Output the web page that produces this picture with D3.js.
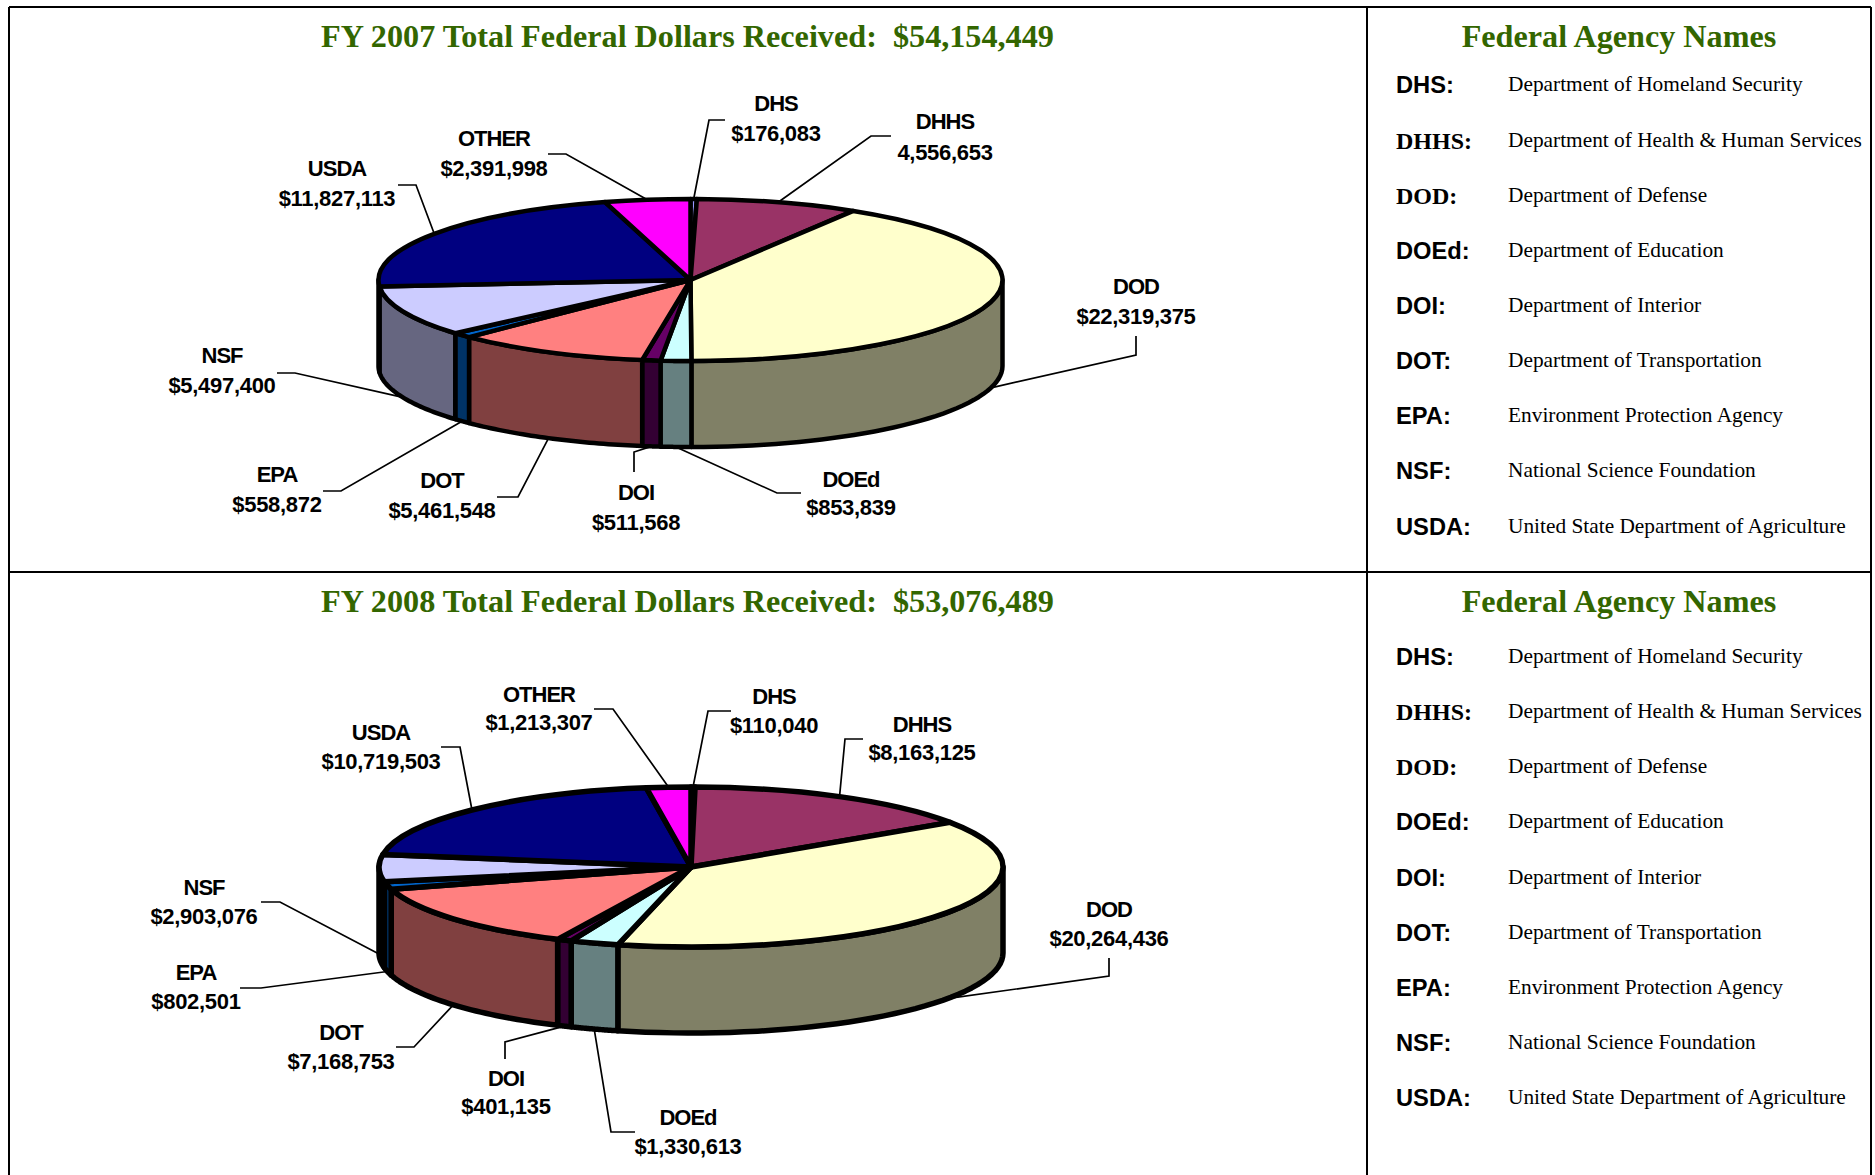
<!DOCTYPE html>
<html>
<head>
<meta charset="utf-8">
<script src="https://d3js.org/d3.v7.min.js"></script>
<style>
    body { margin: 0; background: #fff; }
    svg { display: block; }
    .title { font-family: "Liberation Serif", serif; font-weight: bold; font-size: 32.2px; fill: #336600; text-anchor: middle; white-space: pre; }
    .slice-label { font-family: "Liberation Sans", sans-serif; font-weight: bold; font-size: 22px; text-anchor: middle; fill: #000; }
    .slice-name { letter-spacing: -1px; }
    .slice-value { letter-spacing: -0.3px; }
    .desc { font-family: "Liberation Serif", serif; font-size: 21.35px; fill: #000; }
    .abbr { font-weight: bold; fill: #000; }
</style>
</head>
<body>
<div id="chart"></div>
<script>
// chart data, clockwise from the top of each pie
const agencies = ["DHS", "DHHS", "DOD", "DOEd", "DOI", "DOT", "EPA", "NSF", "USDA", "OTHER"];
const values2007 = [176083, 4556653, 22319375, 853839, 511568, 5461548, 558872, 5497400, 11827113, 2391998];
const values2008 = [110040, 8163125, 20264436, 1330613, 401135, 7168753, 802501, 2903076, 10719503, 1213307];
const valueLabels2007 = ["$176,083", "4,556,653", "$22,319,375", "$853,839", "$511,568", "$5,461,548", "$558,872", "$5,497,400", "$11,827,113", "$2,391,998"];
const valueLabels2008 = ["$110,040", "$8,163,125", "$20,264,436", "$1,330,613", "$401,135", "$7,168,753", "$802,501", "$2,903,076", "$10,719,503", "$1,213,307"];
const topColors = ["#9999FF", "#993366", "#FFFFCC", "#CCFFFF", "#660066", "#FF8080", "#0066CC", "#CCCCFF", "#000080", "#FF00FF"];

// legend table
const legendAbbr = ["DHS:", "DHHS:", "DOD:", "DOEd:", "DOI:", "DOT:", "EPA:", "NSF:", "USDA:"];
const legendNames = ["Department of Homeland Security", "Department of Health & Human Services", "Department of Defense",
    "Department of Education", "Department of Interior", "Department of Transportation",
    "Environment Protection Agency", "National Science Foundation", "United State Department of Agriculture"];
const legendSerif = ["DHHS:", "DOD:"];

// Label placement: label centre x, name y, value y, elbow x, elbow y, tail x, tail y
const layout2007 = [
    [776, 103, 133, 709, 120, 725, 120],
    [945, 121, 152, 871, 136, 891, 136],
    [1136, 286, 316, 1136, 355, 1136, 336],
    [851, 479, 507, 777, 493, 801, 493],
    [636, 492, 522, 634, 452, 634, 472],
    [442, 480, 510, 518, 497, 497, 497],
    [277, 474, 504, 341, 491, 323, 491],
    [222, 355, 385, 295, 373, 277, 373],
    [337, 168, 198, 416, 185, 398, 185],
    [494, 138, 168, 566, 154, 548, 154]
];
const layout2008 = [
    [774, 696, 725, 708, 711, 731, 711],
    [922, 724, 752, 845, 739, 863, 739],
    [1109, 909, 938, 1109, 976, 1109, 958],
    [688, 1117, 1146, 611, 1132, 635, 1132],
    [506, 1078, 1106, 505, 1042, 505, 1059],
    [341, 1032, 1061, 414, 1047, 396, 1047],
    [196, 972, 1001, 261, 988, 240, 988],
    [204, 887, 916, 280, 902, 261, 902],
    [381, 732, 761, 460, 747, 441, 747],
    [539, 694, 722, 613, 709, 594, 709]
];

const svgWidth = 1875;
const svgHeight = 1175;
const svg = d3.select("#chart").append("svg")
    .attr("width", svgWidth)
    .attr("height", svgHeight);

// Table lines
const tableLeft = 9, tableMid = 1367, tableRight = 1871, tableTop = 7, tableRow = 572;
[[tableLeft, tableTop, tableRight, tableTop],
 [tableLeft, tableRow, tableRight, tableRow],
 [tableLeft, tableTop, tableLeft, svgHeight],
 [tableMid, tableTop, tableMid, svgHeight],
 [tableRight, tableTop, tableRight, svgHeight]].forEach(l => {
    svg.append("line")
        .attr("x1", l[0]).attr("y1", l[1]).attr("x2", l[2]).attr("y2", l[3])
        .attr("stroke", "#000").attr("stroke-width", 2);
});

// Side walls are the top colour at half brightness
function wallColor(c) {
    const rgb = d3.rgb(c);
    return d3.rgb(rgb.r / 2, rgb.g / 2, rgb.b / 2);
}

// Draws one flattened 3D pie with its leader lines and labels
function drawPie(values, valueLabels, layout, opt) {
    const { cx, cy, rx, ry, depth, lineWidth } = opt;
    const arcs = d3.pie().sort(null).value(d => d)(values);
    const g = svg.append("g");

    const rimPoint = (a, drop) => [cx + rx * Math.sin(a), cy - ry * Math.cos(a) + drop];

    // Leaders go first, the pie's outline sits over their ends
    arcs.forEach((d, i) => {
        const mid = (d.startAngle + d.endAngle) / 2;
        const front = mid > Math.PI / 2 && mid < 3 * Math.PI / 2;
        const start = rimPoint(mid, front ? depth : 0);
        const l = layout[i];
        g.append("path")
            .attr("d", d3.line()([start, [l[3], l[4]], [l[5], l[6]]]))
            .attr("fill", "none")
            .attr("stroke", "#000")
            .attr("stroke-width", 1.7);
    });

    // Walls: only the part of each slice that faces the viewer
    arcs.forEach((d, i) => {
        const a0 = Math.max(d.startAngle, Math.PI / 2);
        const a1 = Math.min(d.endAngle, 3 * Math.PI / 2);
        if (a1 <= a0) return;
        const angle = d3.scaleLinear().domain([0, 40]).range([a0, a1]);
        const steps = d3.range(41).map(angle);
        const pts = steps.map(a => rimPoint(a, 0))
            .concat(steps.slice().reverse().map(a => rimPoint(a, depth)));
        g.append("path")
            .attr("d", d3.line()(pts) + "Z")
            .attr("fill", wallColor(topColors[i]))
            .attr("stroke", "#000")
            .attr("stroke-width", lineWidth)
            .attr("stroke-linejoin", "round");
    });

    // Top face
    const arc = d3.arc().innerRadius(0).outerRadius(rx);
    g.append("g")
        .attr("transform", `translate(${cx},${cy}) scale(1,${ry / rx})`)
        .selectAll("path")
        .data(arcs)
        .enter()
        .append("path")
        .attr("d", arc)
        .attr("fill", (d, i) => topColors[i])
        .attr("stroke", "#000")
        .attr("stroke-width", lineWidth)
        .attr("stroke-linejoin", "round")
        .attr("vector-effect", "non-scaling-stroke");

    // Labels
    agencies.forEach((name, i) => {
        const l = layout[i];
        g.append("text").attr("class", "slice-label slice-name").attr("x", l[0]).attr("y", l[1] + 8).text(name);
        g.append("text").attr("class", "slice-label slice-value").attr("x", l[0]).attr("y", l[2] + 8).text(valueLabels[i]);
    });
}

function drawLegend(titleY, rowYs) {
    svg.append("text").attr("class", "title")
        .attr("x", 1619).attr("y", titleY)
        .text("Federal Agency Names");
    legendAbbr.forEach((t, i) => {
        const serif = legendSerif.includes(t);
        svg.append("text").attr("class", "abbr")
            .attr("x", 1396).attr("y", rowYs[i] + 2)
            .style("font-family", serif ? "'Liberation Serif', serif" : "'Liberation Sans', sans-serif")
            .style("font-size", serif ? "24px" : "23.7px")
            .text(t);
        svg.append("text").attr("class", "desc")
            .attr("x", 1508).attr("y", rowYs[i])
            .text(legendNames[i]);
    });
}

// FY 2007
svg.append("text").attr("class", "title")
    .attr("x", 687.5).attr("y", 47)
    .text("FY 2007 Total Federal Dollars Received:  $54,154,449");
drawPie(values2007, valueLabels2007, layout2007, { cx: 690.5, cy: 280, rx: 312, ry: 81, depth: 86, lineWidth: 4.5 });
drawLegend(47, [91, 147, 202, 257, 312, 367, 422, 477, 533]);

// FY 2008
svg.append("text").attr("class", "title")
    .attr("x", 687.5).attr("y", 612)
    .text("FY 2008 Total Federal Dollars Received:  $53,076,489");
drawPie(values2008, valueLabels2008, layout2008, { cx: 691, cy: 867, rx: 312, ry: 80, depth: 86, lineWidth: 5.5 });
drawLegend(612, [663, 718, 773, 828, 884, 939, 994, 1049, 1104]);
</script>
</body>
</html>
